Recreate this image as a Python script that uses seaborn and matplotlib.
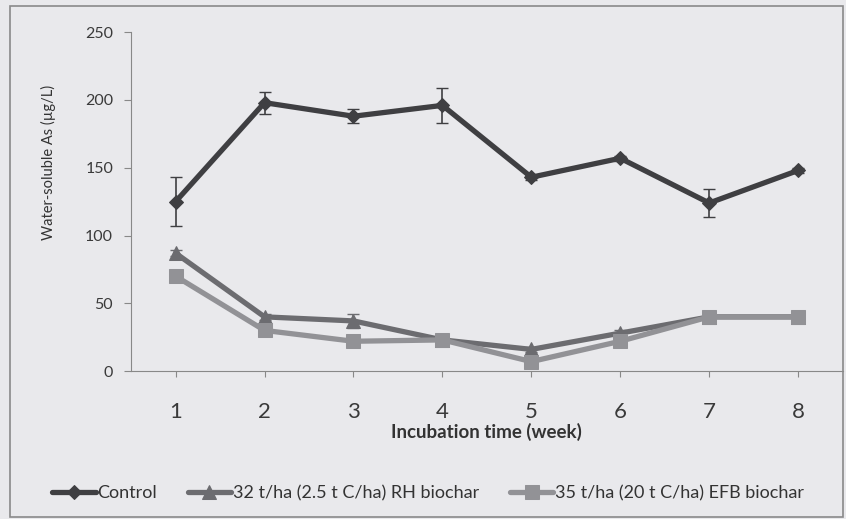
import pandas as pd
import matplotlib.pyplot as plt
import seaborn as sns
from matplotlib.patches import Rectangle

weeks = [1, 2, 3, 4, 5, 6, 7, 8]
control = [125, 198, 188, 196, 143, 157, 124, 148]
control_err = [18, 8, 5, 13, 2, 2, 10, 2]
rh_biochar = [87, 40, 37, 23, 16, 28, 40, 40]
rh_err = [2, 2, 5, 2, 2, 2, 2, 2]
efb_biochar = [70, 30, 22, 23, 7, 22, 40, 40]
efb_err = [2, 2, 2, 2, 2, 2, 2, 2]

series_names = ["Control", "32 t/ha (2.5 t C/ha) RH biochar", "35 t/ha (20 t C/ha) EFB biochar"]
colors = ["#3f3f42", "#6c6c70", "#929296"]
markers = ["D", "^", "s"]
marker_sizes = [7, 10, 10]

df = pd.DataFrame({
    "week": weeks * 3,
    "value": control + rh_biochar + efb_biochar,
    "err": control_err + rh_err + efb_err,
    "series": [series_names[0]] * 8 + [series_names[1]] * 8 + [series_names[2]] * 8,
})

sns.set_style("white")
plt.rcParams["font.family"] = ["Lato", "DejaVu Sans"]

fig = plt.figure(figsize=(8.46, 5.19), dpi=100)
fig.patch.set_facecolor("#e9e9ec")
ax = fig.add_axes([0.155, 0.285, 0.841, 0.653])
ax.set_facecolor("#e9e9ec")

# outer chart border
fig.patches.append(Rectangle((0.012, 0.004), 0.985, 0.985, transform=fig.transFigure,
                             fill=False, edgecolor="#8a8a8a", linewidth=1.2))

for name, c, m, ms in zip(series_names, colors, markers, marker_sizes):
    sub = df[df["series"] == name]
    sns.lineplot(data=sub, x="week", y="value", color=c, marker=m, markersize=ms,
                 markeredgecolor=c, linewidth=3.8, ax=ax, label=name, legend=False)
    ax.errorbar(sub["week"], sub["value"], yerr=sub["err"], fmt="none",
                ecolor=c, elinewidth=1.2, capsize=4)

ax.set_xlim(0.5, 8.5)
ax.set_ylim(0, 250)
ax.set_xticks(weeks)
ax.set_yticks([0, 50, 100, 150, 200, 250])
ax.tick_params(axis="x", labelsize=16, length=4, direction="out", bottom=True, pad=18, color="#888888")
ax.tick_params(axis="y", labelsize=11.5, length=5, direction="out", left=True, pad=8, color="#888888")
for t in ax.get_xticklabels() + ax.get_yticklabels():
    t.set_color("#3a3a3a")
ax.set_xlabel("Incubation time (week)", fontsize=13.5, fontweight="bold", color="#333333", labelpad=1)
ax.set_ylabel("Water-soluble As (µg/L)", fontsize=10.5, color="#333333")
ax.yaxis.set_label_coords(-0.105, 0.617)

sns.despine(ax=ax, top=True, right=True)
ax.spines["left"].set_color("#888888")
ax.spines["bottom"].set_color("#888888")

handles, labels = ax.get_legend_handles_labels()
fig.legend(handles, labels, loc="center", bbox_to_anchor=(0.506, 0.05), ncol=3,
           frameon=False, fontsize=13, handlelength=2.4, columnspacing=1.7,
           handletextpad=0.1, labelcolor="#333333")

fig.savefig("out.png", dpi=100, facecolor=fig.get_facecolor())
